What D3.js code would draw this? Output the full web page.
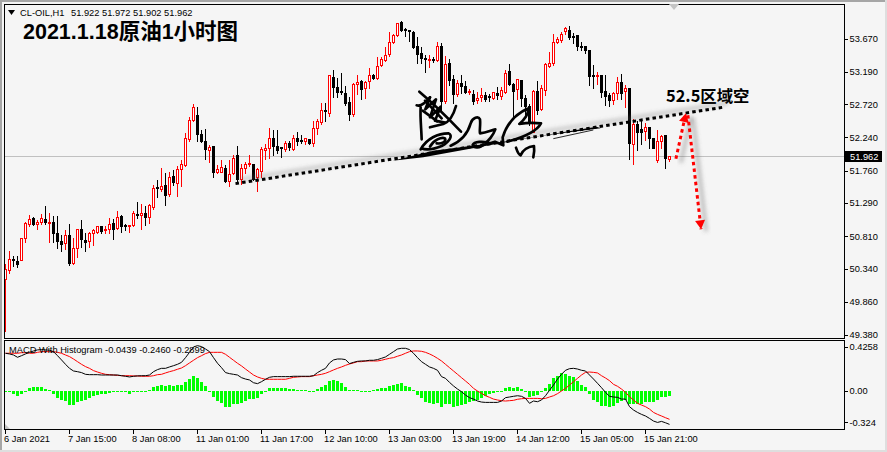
<!DOCTYPE html>
<html><head><meta charset="utf-8">
<script src="https://cdn.jsdelivr.net/npm/d3@7/dist/d3.min.js"></script>
<style>html,body{margin:0;padding:0;background:#f5f5f5;overflow:hidden}svg{display:block}
text{font-family:"Liberation Sans",sans-serif;font-size:9.3px;fill:#000}</style></head><body><div id="c"></div>
<script>
const opens=[50.18,50.31,50.47,50.45,50.46,50.78,50.98,51.07,50.98,51.01,
51.05,50.99,51.01,50.85,50.74,50.71,50.82,50.42,50.64,50.91,
50.75,50.73,50.84,50.87,50.95,50.90,50.91,51.00,50.92,51.10,
50.96,50.95,50.96,51.13,51.11,51.14,51.08,51.23,51.52,51.49,
51.55,51.42,51.68,51.58,51.78,51.84,52.21,52.48,52.55,52.28,
52.18,52.05,52.11,51.73,51.74,51.79,51.60,51.72,51.97,51.63,
51.78,51.84,51.85,51.66,51.74,52.05,52.09,52.23,52.11,52.10,
52.06,52.15,52.07,52.23,52.20,52.17,52.21,52.15,52.37,52.45,
52.63,52.58,53.11,52.96,52.91,52.87,52.75,52.58,53.01,53.05,
52.96,53.05,53.14,53.10,53.29,53.36,53.43,53.62,53.71,53.90,
53.80,53.79,53.76,53.56,53.45,53.38,53.36,53.37,53.36,53.56,
52.77,53.31,53.07,52.86,53.02,52.98,52.88,52.86,52.77,52.81,
52.85,52.83,52.80,52.88,52.84,52.90,53.19,53.01,52.93,53.06,
52.80,52.69,52.32,52.91,52.65,52.93,53.27,53.30,53.62,53.65,
53.77,53.79,53.70,53.71,53.55,53.55,53.50,53.13,53.11,53.13,
52.91,52.84,52.78,52.88,53.04,52.90,52.94,52.14,52.42,52.35,
52.32,52.38,52.23,51.90,52.18,52.26,51.922];
const highs=[50.41,50.60,50.53,50.52,50.79,51.02,51.12,51.09,51.05,51.13,
51.25,51.15,51.10,51.10,50.83,50.90,50.99,50.78,50.91,51.04,
50.86,50.87,50.92,50.96,50.96,50.96,51.08,51.06,51.17,51.12,
50.99,50.97,51.18,51.30,51.27,51.25,51.27,51.55,51.62,51.79,
51.73,51.74,51.77,51.82,51.91,52.30,52.54,52.72,52.68,52.35,
52.36,52.13,52.11,51.84,51.91,51.84,51.91,51.98,52.11,51.86,
51.89,51.98,51.86,51.79,52.10,52.14,52.37,52.35,52.35,52.10,
52.18,52.18,52.28,52.31,52.27,52.23,52.21,52.47,52.51,52.74,
52.73,53.14,53.22,53.10,53.17,52.98,52.83,53.02,53.14,53.07,
53.06,53.24,53.16,53.40,53.40,53.55,53.76,53.74,53.90,53.93,
53.82,53.80,53.78,53.69,53.55,53.43,53.43,53.40,53.62,53.61,
53.41,53.37,53.14,53.07,53.14,53.05,52.94,52.92,52.89,52.96,
52.89,52.87,52.90,52.97,52.97,53.21,53.30,53.02,53.08,53.07,
52.85,52.72,52.92,53.05,53.00,53.31,53.48,53.74,53.69,53.77,
53.84,53.85,53.75,53.71,53.62,53.56,53.50,53.29,53.19,53.14,
53.14,52.88,52.90,53.11,53.15,52.99,52.94,52.50,52.47,52.47,
52.45,52.38,52.23,52.35,52.27,52.28,51.972];
const lows=[49.44,50.28,50.38,50.36,50.46,50.73,50.95,50.97,50.91,50.98,
50.98,50.73,50.73,50.64,50.60,50.63,50.40,50.41,50.51,50.65,
50.60,50.66,50.68,50.85,50.86,50.86,50.86,50.77,50.91,50.87,
50.90,50.87,50.95,51.08,50.91,50.97,51.00,51.20,51.37,51.47,
51.26,51.39,51.55,51.39,51.53,51.83,52.18,52.47,52.19,52.17,
51.92,51.89,51.67,51.72,51.74,51.60,51.53,51.71,51.61,51.57,
51.72,51.83,51.62,51.47,51.66,51.92,51.94,51.98,52.02,51.95,
52.04,52.06,52.05,52.13,52.16,52.15,52.14,52.11,52.29,52.43,
52.47,52.55,52.83,52.83,52.87,52.71,52.49,52.55,52.87,52.79,
52.81,52.96,53.09,53.09,53.27,53.34,53.42,53.61,53.70,53.78,
53.71,53.64,53.53,53.32,53.32,53.19,53.26,53.33,53.35,52.63,
52.74,52.99,52.74,52.84,52.88,52.88,52.87,52.72,52.73,52.76,
52.77,52.76,52.79,52.80,52.80,52.88,52.99,52.51,52.80,52.69,
52.56,52.42,52.31,52.58,52.63,52.85,53.26,53.29,53.60,53.62,
53.74,53.66,53.60,53.51,53.51,53.46,53.00,52.96,53.01,52.83,
52.71,52.70,52.72,52.80,52.80,52.68,51.93,51.86,52.05,52.15,
52.20,52.09,52.08,51.89,52.08,51.79,51.902];
const closes=[50.33,50.47,50.46,50.41,50.78,50.99,51.05,50.99,51.01,51.07,
51.00,51.01,50.85,50.74,50.70,50.82,50.41,50.63,50.91,50.76,
50.72,50.85,50.89,50.95,50.88,50.91,50.98,50.92,51.08,50.95,
50.94,50.97,51.14,51.12,51.14,51.08,51.25,51.50,51.51,51.53,
51.41,51.66,51.60,51.78,51.85,52.23,52.49,52.67,52.28,52.18,
52.06,52.09,51.73,51.77,51.81,51.60,51.70,51.94,51.62,51.79,
51.84,51.86,51.63,51.77,52.06,52.08,52.23,52.12,52.05,52.09,
52.15,52.09,52.23,52.19,52.18,52.22,52.15,52.37,52.47,52.63,
52.62,53.13,52.96,52.89,52.89,52.72,52.58,53.01,53.04,52.93,
53.04,53.13,53.10,53.27,53.37,53.43,53.61,53.72,53.89,53.79,
53.78,53.77,53.55,53.45,53.38,53.36,53.37,53.36,53.56,52.77,
53.30,53.07,52.85,53.02,52.97,52.90,52.90,52.76,52.80,52.84,
52.79,52.82,52.89,52.85,52.92,53.17,53.00,52.91,53.07,52.80,
52.69,52.44,52.91,52.63,52.95,53.30,53.31,53.61,53.66,53.73,
53.81,53.69,53.68,53.55,53.54,53.49,53.13,53.11,53.13,52.89,
52.84,52.77,52.88,53.04,52.88,52.94,52.15,52.43,52.31,52.31,
52.38,52.22,52.09,52.18,52.25,51.92,51.962];
const histogram=[-.006,-.012,-.023,-.041,-.029,-.012,.023,.035,.035,.035,
.017,.006,-.029,-.058,-.081,-.087,-.122,-.122,-.099,-.087,
-.075,-.058,-.046,-.035,-.023,-.023,-.017,-.012,-.012,-.006,
-.012,-.023,-.006,-.006,-.006,-.006,.006,.038,.046,.052,
.046,.052,.046,.052,.052,.075,.104,.131,.116,.075,
.041,-.002,-.052,-.087,-.107,-.139,-.139,-.116,-.116,-.104,
-.087,-.070,-.070,-.064,-.029,-.006,.023,.029,.023,.023,
.023,.014,.014,.006,.009,.006,-.006,.003,.017,.038,
.052,.090,.096,.090,.067,.038,.006,.006,.006,-.006,
-.002,.002,.009,.020,.029,.023,.041,.052,.064,.067,
.046,.038,.009,-.035,-.064,-.093,-.107,-.113,-.107,-.136,
-.116,-.110,-.139,-.133,-.122,-.116,-.093,-.087,-.078,-.064,
-.041,-.029,-.020,-.012,-.006,.023,.035,.023,.035,.017,
-.006,-.052,-.041,-.035,-.006,.023,.064,.116,.133,.154,
.145,.133,.125,.087,.052,.035,-.029,-.078,-.093,-.128,
-.133,-.139,-.133,-.102,-.087,-.078,-.116,-.116,-.116,-.116,
-.093,-.093,-.099,-.078,-.052,-.052,-.044];
const macd=[.328,.322,.313,.293,.307,.322,.336,.348,.357,.360,
.357,.354,.342,.307,.270,.232,.197,.174,.168,.160,
.145,.142,.142,.142,.139,.139,.139,.139,.139,.133,
.128,.122,.128,.131,.133,.133,.139,.168,.186,.197,
.197,.209,.220,.232,.249,.290,.336,.383,.394,.386,
.365,.342,.290,.241,.203,.160,.151,.145,.139,.116,
.104,.096,.072,.064,.081,.102,.119,.125,.125,.125,
.125,.125,.128,.128,.128,.128,.128,.133,.160,.180,
.197,.244,.270,.278,.278,.273,.238,.249,.258,.261,
.261,.267,.267,.273,.284,.296,.319,.342,.365,.371,
.371,.360,.328,.290,.255,.232,.209,.197,.180,.125,
.110,.075,.044,.017,-.006,-.035,-.058,-.070,-.087,-.096,
-.099,-.099,-.099,-.099,-.087,-.058,-.052,-.046,-.041,-.046,
-.064,-.107,-.087,-.093,-.078,-.041,.006,.052,.104,.145,
.180,.194,.197,.191,.180,.174,.139,.104,.067,.029,
-.012,-.046,-.052,-.055,-.070,-.070,-.136,-.165,-.186,-.203,
-.217,-.238,-.261,-.273,-.264,-.276,-.2899];
const signal=[.328,.328,.328,.328,.333,.333,.328,.328,.336,.342,
.342,.342,.342,.336,.328,.313,.299,.278,.255,.232,
.212,.197,.177,.165,.154,.145,.142,.139,.136,.133,
.133,.133,.131,.131,.128,.128,.128,.133,.142,.145,
.157,.168,.177,.189,.200,.220,.244,.267,.290,.307,
.325,.336,.336,.336,.336,.319,.293,.267,.241,.218,
.191,.165,.139,.122,.110,.102,.102,.102,.102,.102,
.102,.110,.119,.122,.125,.125,.125,.133,.139,.145,
.154,.168,.183,.197,.209,.223,.235,.244,.255,.255,
.261,.261,.261,.261,.267,.276,.284,.290,.302,.313,
.328,.342,.348,.348,.345,.336,.322,.305,.284,.261,
.232,.203,.174,.145,.116,.087,.058,.023,0,-.020,
-.041,-.055,-.070,-.078,-.084,-.087,-.084,-.081,-.072,-.067,
-.064,-.064,-.064,-.064,-.067,-.064,-.052,-.041,-.023,0,
.023,.052,.081,.110,.139,.162,.165,.162,.157,.133,
.113,.090,.058,.041,.017,-.012,-.049,-.078,-.107,-.122,
-.136,-.157,-.186,-.203,-.217,-.232,-.246];
const priceTicks=[53.67,53.19,52.72,52.24,51.76,51.29,50.81,50.34,49.86,49.38];
const macdTicks=[0.4258,0,-0.324];
const macdTickNudge=[5.5,0,-5.5];
const timeLabels=["6 Jan 2021","7 Jan 15:00","8 Jan 08:00","11 Jan 01:00","11 Jan 17:00","12 Jan 10:00","13 Jan 03:00","13 Jan 19:00","14 Jan 12:00","15 Jan 05:00","15 Jan 21:00"];
const bid=51.962;
const trendLine=[[57.5,51.57],[179.9,52.68]];
const arrowUp=[[167.6,51.93],[170.1,52.59]];
const arrowDown=[[170.6,52.56],[173.9,50.91]];
const signature=[
"M118,35 C160,70 205,115 243,155",
"M110,76 C122,80 135,70 150,52 M122,82 C120,110 124,145 125,178",
"M150,52 L136,88 L168,58 L150,112 L182,80 L165,122 L195,128",
"M135,62 L185,115 M128,92 L172,124",
"M228,78 C222,100 210,125 190,132 L150,142",
"M122,208 C140,175 175,160 205,160 C220,165 210,185 185,198 C160,208 140,212 125,205",
"M150,200 C160,180 185,170 195,175 C200,185 185,192 170,190",
"M212,197 C240,185 262,165 272,130 C278,112 295,108 300,118 C302,135 298,150 300,160 C320,158 335,150 346,148 C340,165 325,185 312,192 C300,205 282,205 278,195 C282,185 310,182 330,190 L345,185 L370,196 L368,172 C378,140 400,105 442,86 C450,100 430,122 418,132 C440,128 465,128 483,130 C470,155 430,172 382,185",
"M408,203 C412,215 416,225 422,226 C428,210 445,200 462,198 C464,210 462,222 460,232"
];
const underline="M38,242 L160,212 L380,184 L650,140 L662,145 L480,168 L130,232 Z";
const underline2="M520,176 L640,150";

const W=887,H=452,L=4.5,R=844.5,T=4.5,B=338.5,MT=340.5,MB=429.5;
const x=d3.scaleLinear().domain([0,1]).range([5.5,9.5]);
const y=d3.scaleLinear().domain([49.38,53.67]).range([335,38.5]);
const my=d3.scaleLinear().domain([-0.324,0.4258]).range([428.3,342]);
const snap=v=>Math.round(v-.5)+.5;
const svg=d3.select("#c").append("svg").attr("width",W).attr("height",H);
const defs=svg.append("defs");
defs.append("filter").attr("id","blur").attr("x","-30%").attr("y","-200%").attr("width","160%").attr("height","500%")
  .append("feGaussianBlur").attr("stdDeviation",2);

svg.append("rect").attr("width",W).attr("height",H).attr("fill","#f5f5f5");
svg.append("rect").attr("width",W).attr("height",2).attr("fill","#a6a6a6");
svg.append("rect").attr("width",2).attr("height",H).attr("fill","#a6a6a6");
svg.append("rect").attr("x",W-2).attr("width",2).attr("height",H).attr("fill","#dedede");
svg.append("rect").attr("y",H-2).attr("width",W).attr("height",2).attr("fill","#dedede");

// bid line
svg.append("line").attr("x1",L).attr("x2",R).attr("y1",snap(y(bid))).attr("y2",snap(y(bid))).attr("stroke","#c0c0c0");

// candles
const idx=d3.range(opens.length);
const g=svg.append("g").attr("shape-rendering","crispEdges");
const isUp=i=>closes[i]>=opens[i];
g.selectAll(".w").data(idx).join("line")
 .attr("x1",i=>x(i)).attr("x2",i=>x(i))
 .attr("y1",i=>Math.round(y(highs[i]))).attr("y2",i=>Math.round(y(lows[i]))+1)
 .attr("stroke",i=>isUp(i)?"#ff0000":"#000");
g.selectAll(".b").data(idx).join("rect")
 .attr("x",i=>x(i)-1).attr("width",2)
 .attr("y",i=>snap(y(Math.max(opens[i],closes[i]))))
 .attr("height",i=>Math.max(1,Math.round(y(Math.min(opens[i],closes[i]))-y(Math.max(opens[i],closes[i])))))
 .attr("fill",i=>isUp(i)?"#fff":"#000")
 .attr("stroke",i=>isUp(i)?"#ff0000":"#000");

// MACD panel
const hg=svg.append("g").attr("shape-rendering","crispEdges");
hg.selectAll("rect").data(histogram).join("rect")
 .attr("x",(d,i)=>x(i)-1.5).attr("width",3)
 .attr("y",d=>Math.min(my(d),my(0))).attr("height",d=>Math.max(1,Math.abs(my(d)-my(0))))
 .attr("fill","#00ff00");
const ln=d3.line().x((d,i)=>x(i)).y(d=>my(d));
svg.append("path").attr("d",ln(signal)).attr("fill","none").attr("stroke","#ff0000").attr("stroke-width",1);
svg.append("path").attr("d",ln(macd)).attr("fill","none").attr("stroke","#000").attr("stroke-width",1);

// frames
const fr=svg.append("g").attr("fill","none").attr("stroke","#000").attr("shape-rendering","crispEdges");
fr.append("rect").attr("x",L).attr("y",T).attr("width",R-L).attr("height",B-T);
fr.append("rect").attr("x",L).attr("y",MT).attr("width",R-L).attr("height",MB-MT);
svg.append("path").attr("d","M669,4 L679,4 L674,10 Z").attr("fill","#c4c4c4");
svg.append("path").attr("d","M5,424 L5,429 L10,429 Z").attr("fill","#c4c4c4");

// price axis
const fontStyle="font-family:'Liberation Sans';font-size:9.3px";
const ax=d3.axisRight(y).tickValues(priceTicks).tickFormat(d3.format(".3f")).tickSize(3).tickPadding(2);
const ag=svg.append("g").attr("transform",`translate(${R},0)`).call(ax);
ag.select(".domain").remove();
ag.selectAll("line").attr("stroke","#000").attr("shape-rendering","crispEdges");
ag.selectAll("text").attr("fill","#000").attr("style",fontStyle);

// bid label
svg.append("rect").attr("x",845).attr("y",151).attr("width",37).attr("height",11).attr("fill","#000");
svg.append("text").attr("x",850).attr("y",160).style("fill","#fff").text(d3.format(".3f")(bid));

// macd axis
const ma=d3.axisRight(my).tickValues(macdTicks).tickFormat((d,i)=>["0.4258","0.00","-0.324"][i]).tickSize(3).tickPadding(2);
const mg=svg.append("g").attr("transform",`translate(${R},0)`).call(ma);
mg.select(".domain").remove();
mg.selectAll(".tick").attr("transform",(d,i)=>`translate(0,${my(d)+macdTickNudge[i]})`);
mg.selectAll("line").attr("stroke","#000").attr("shape-rendering","crispEdges");
mg.selectAll("text").attr("fill","#000").attr("style",fontStyle);

// time axis
const tg=svg.append("g").selectAll("g").data(timeLabels).join("g").attr("transform",(d,k)=>`translate(${x(k*16)},${MB})`);
tg.append("line").attr("y2",4).attr("stroke","#000").attr("shape-rendering","crispEdges");
tg.append("text").attr("x",-1.5).attr("y",12.5).text(d=>d);

// labels
svg.append("path").attr("d","M8,10 L15,10 L11.5,15 Z").attr("fill","#000");
svg.append("text").attr("x",20).attr("y",16).text("CL-OIL,H1");
svg.append("text").attr("x",71).attr("y",16).text("51.922 51.972 51.902 51.962");
svg.append("text").attr("x",9).attr("y",353).text("MACD With Histogram -0.0439 -0.2460 -0.2899");
svg.append("text").attr("x",23).attr("y",38.5).style("font-family","'Liberation Sans','Noto Sans CJK SC'").style("font-weight",700).style("font-size","21.5px").text("2021.1.18原油1小时图");
svg.append("text").attr("x",666).attr("y",102).style("font-family","'Noto Sans CJK SC'").style("font-weight",700).style("font-size","16.4px").text("52.5区域空");

// annotations with soft shadows
const pt=p=>[x(p[0]),y(p[1])];
const seg=a=>d3.line()(a.map(pt));
const shadow=(d,dx,dy,w,o)=>svg.append("path").attr("d",d).attr("transform",`translate(${dx},${dy})`).attr("fill","none").attr("stroke","#666").attr("stroke-opacity",o).attr("stroke-width",w).attr("filter","url(#blur)");
shadow(seg(trendLine),3,-4,3,.4);
shadow(seg(arrowUp),5,4,3,.5);
shadow(seg(arrowDown),5,2,3,.5);
const dot=(d,c)=>svg.append("path").attr("d",d).attr("fill","none").attr("stroke",c).attr("stroke-width",3).attr("stroke-dasharray","3.5 3.2");
dot(seg(trendLine),"#000");
function head(a){const p=pt(a[1]),q=pt(a[0]);const ang=Math.atan2(p[1]-q[1],p[0]-q[0]);
 const L=9,w=5;const bx=p[0]-L*Math.cos(ang),by=p[1]-L*Math.sin(ang);
 return `M${p[0]},${p[1]}L${bx-w*Math.sin(ang)},${by+w*Math.cos(ang)}L${bx+w*Math.sin(ang)},${by-w*Math.cos(ang)}Z`;}
dot(seg(arrowUp),"#ff0000");dot(seg(arrowDown),"#ff0000");
svg.append("path").attr("d",head(arrowUp)).attr("fill","#ff0000");
svg.append("path").attr("d",head(arrowDown)).attr("fill","#ff0000");

// signature
const sg=svg.append("g").attr("transform","translate(380,80) scale(.3333)");
sg.selectAll(".s").data(signature).join("path").attr("d",d=>d).attr("fill","none").attr("stroke","#000").attr("stroke-width",8).attr("stroke-linecap","round").attr("stroke-linejoin","round");
sg.append("path").attr("d",underline).attr("fill","#000");
sg.append("path").attr("d",underline2).attr("fill","none").attr("stroke","#000").attr("stroke-width",2.5);
</script></body></html>
